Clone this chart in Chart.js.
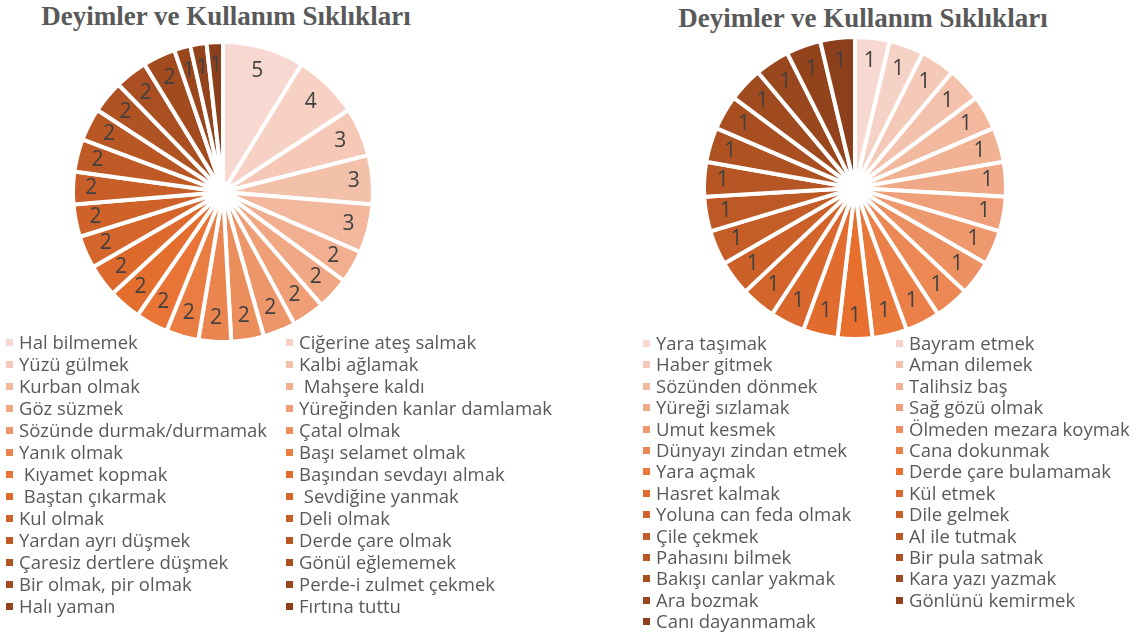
<!DOCTYPE html>
<html>
<head>
<meta charset="utf-8">
<script src="https://cdn.jsdelivr.net/npm/chart.js@4.4.1/dist/chart.umd.min.js"></script>
<style>
  body { margin: 0; background: #fff; width: 1139px; height: 633px; position: relative; overflow: hidden; }
  .title { position: absolute; font: bold 27px "Liberation Serif", serif; color: #595959; white-space: nowrap; transform: translateX(-50%); }
  .pie { position: absolute; width: 320px; height: 320px; }
  .item { position: absolute; font: 18.5px "Open Sans", sans-serif; color: #595959; white-space: pre; line-height: 20px; }
  .item i { position: absolute; width: 7px; height: 7px; top: 7px; }
</style>
</head>
<body>
<div class="title" style="left:226px;top:1px">Deyimler ve Kullanım Sıklıkları</div>
<div class="title" style="left:863px;top:3px">Deyimler ve Kullanım Sıklıkları</div>
<div class="pie" style="left:63px;top:32px"><canvas id="leftChart"></canvas></div>
<div class="pie" style="left:695px;top:28px"><canvas id="rightChart"></canvas></div>
<div id="leftLegend"></div>
<div id="rightLegend"></div>
<script>
const leftLabels = [
  'Hal bilmemek', 'Ciğerine ateş salmak',
  'Yüzü gülmek', 'Kalbi ağlamak',
  'Kurban olmak', ' Mahşere kaldı',
  'Göz süzmek', 'Yüreğinden kanlar damlamak',
  'Sözünde durmak/durmamak', 'Çatal olmak',
  'Yanık olmak', 'Başı selamet olmak',
  ' Kıyamet kopmak', 'Başından sevdayı almak',
  ' Baştan çıkarmak', ' Sevdiğine yanmak',
  'Kul olmak', 'Deli olmak',
  'Yardan ayrı düşmek', 'Derde çare olmak',
  'Çaresiz dertlere düşmek', 'Gönül eğlememek',
  'Bir olmak, pir olmak', 'Perde-i zulmet çekmek',
  'Halı yaman', 'Fırtına tuttu'
];
const leftValues = [5, 4, 3, 3, 3, 2, 2, 2, 2, 2, 2, 2, 2, 2, 2, 2, 2, 2, 2, 2, 2, 2, 2, 1, 1, 1];

const rightLabels = [
  'Yara taşımak', 'Bayram etmek',
  'Haber gitmek', 'Aman dilemek',
  'Sözünden dönmek', 'Talihsiz baş',
  'Yüreği sızlamak', 'Sağ gözü olmak',
  'Umut kesmek', 'Ölmeden mezara koymak',
  'Dünyayı zindan etmek', 'Cana dokunmak',
  'Yara açmak', 'Derde çare bulamamak',
  'Hasret kalmak', 'Kül etmek',
  'Yoluna can feda olmak', 'Dile gelmek',
  'Çile çekmek', 'Al ile tutmak',
  'Pahasını bilmek', 'Bir pula satmak',
  'Bakışı canlar yakmak', 'Kara yazı yazmak',
  'Ara bozmak', 'Gönlünü kemirmek',
  'Canı dayanmamak'
];
const rightValues = [1, 1, 1, 1, 1, 1, 1, 1, 1, 1, 1, 1, 1, 1, 1, 1, 1, 1, 1, 1, 1, 1, 1, 1, 1, 1, 1];

// monochromatic orange: light tint -> accent -> dark shade
const paletteStops = ['#f7d9d1', '#e8702f', '#8b3f1a'];

function hexToRgb(hex) {
  const v = parseInt(hex.replace('#', ''), 16);
  return [(v >> 16) & 255, (v >> 8) & 255, v & 255];
}

function mix(a, b, t) {
  const ca = hexToRgb(a), cb = hexToRgb(b);
  const c = ca.map((x, i) => Math.round(x + (cb[i] - x) * t));
  return `rgb(${c[0]}, ${c[1]}, ${c[2]})`;
}

function buildPalette(n) {
  const colors = [];
  for (let i = 0; i < n; i++) {
    const t = n > 1 ? i / (n - 1) : 0;
    colors.push(t <= 0.5 ? mix(paletteStops[0], paletteStops[1], t * 2) : mix(paletteStops[1], paletteStops[2], (t - 0.5) * 2));
  }
  return colors;
}

// values drawn near the outer edge, like "inside end" labels
const valueLabels = {
  id: 'valueLabels',
  afterDatasetsDraw(chart) {
    const ctx = chart.ctx;
    const meta = chart.getDatasetMeta(0);
    ctx.save();
    ctx.font = '21px "Open Sans", sans-serif';
    ctx.fillStyle = '#404040';
    ctx.textAlign = 'center';
    ctx.textBaseline = 'middle';
    meta.data.forEach((arc, i) => {
      const { x, y, startAngle, endAngle, outerRadius } = arc.getProps(['x', 'y', 'startAngle', 'endAngle', 'outerRadius'], true);
      const mid = (startAngle + endAngle) / 2;
      const text = String(chart.data.datasets[0].data[i]);
      const w = ctx.measureText(text).width;
      const cos = Math.cos(mid), sin = Math.sin(mid);
      const r = outerRadius - 12 - (Math.abs(cos) * w / 2 + Math.abs(sin) * 11);
      ctx.fillText(text, x + cos * r, y + sin * r);
    });
    ctx.restore();
  }
};

function makePie(id, labels, values, pad) {
  return new Chart(document.getElementById(id), {
    type: 'doughnut',
    data: {
      labels: labels,
      datasets: [{
        data: values,
        backgroundColor: buildPalette(values.length),
        borderColor: '#ffffff',
        borderWidth: 4
      }]
    },
    options: {
      responsive: true,
      maintainAspectRatio: false,
      animation: false,
      cutout: 9,
      layout: { padding: pad },
      plugins: {
        legend: { display: false },
        tooltip: { enabled: false }
      }
    },
    plugins: [valueLabels]
  });
}

function buildLegend(chart, el, cols, top, step) {
  const items = chart.options.plugins.legend.labels.generateLabels(chart);
  items.forEach((item, i) => {
    const col = i % 2;
    const row = Math.floor(i / 2);
    const div = document.createElement('div');
    div.className = 'item';
    div.style.left = cols[col] + 'px';
    div.style.top = (top + row * step - 10) + 'px';
    div.style.paddingLeft = '13px';
    const box = document.createElement('i');
    box.style.left = '0px';
    box.style.background = item.fillStyle;
    div.appendChild(box);
    div.appendChild(document.createTextNode(item.text));
    el.appendChild(div);
  });
}

const leftChart = makePie('leftChart', leftLabels, leftValues, 8);
const rightChart = makePie('rightChart', rightLabels, rightValues, 7);

buildLegend(leftChart, document.getElementById('leftLegend'), [6, 286], 342, 22);
buildLegend(rightChart, document.getElementById('rightLegend'), [643, 896], 343, 21.4);
</script>
</body>
</html>
